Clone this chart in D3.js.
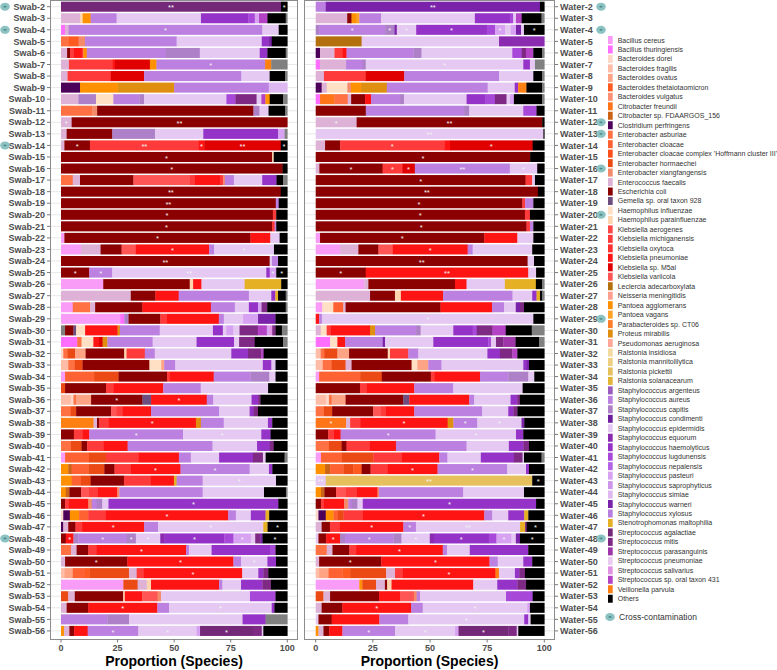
<!DOCTYPE html>
<html><head><meta charset="utf-8">
<script src="https://cdn.jsdelivr.net/npm/d3@7"></script>
<style>body{margin:0;background:#fff}svg{display:block}text{font-family:"Liberation Sans",Arial,sans-serif}</style>
</head><body>
<svg id="c" width="777" height="670"></svg>
<script>
// ---------- legend categories ----------
const speciesKeys = ["bc","bt","bd","bf","bo","btt","bv","cf","cs","cp","ea","ec","eh3","eh","ex","ef","eco","gem","hi","hp","ka","km","ko","kp","k5","kv","la","nm","pa","pv","pb","pm","psa","ri","rm","rp","rs","sar","sau","sca","sco","sep","seq","sha","slu","sne","spa","ssa","ssi","swa","sxy","stm","sag","smi","spar","spn","ssal","s431","vp","oth"];
const speciesNames = ["Bacillus cereus","Bacillus thuringiensis","Bacteroides dorei","Bacteroides fragilis","Bacteroides ovatus","Bacteroides thetaiotaomicron","Bacteroides vulgatus","Citrobacter freundii","Citrobacter sp. FDAARGOS_156","Clostridium perfringens","Enterobacter asburiae","Enterobacter cloacae","Enterobacter cloacae complex 'Hoffmann cluster III'","Enterobacter hormaechei","Enterobacter xiangfangensis","Enterococcus faecalis","Escherichia coli","Gemella sp. oral taxon 928","Haemophilus influenzae","Haemophilus parainfluenzae","Klebsiella aerogenes","Klebsiella michiganensis","Klebsiella oxytoca","Klebsiella pneumoniae","Klebsiella sp. M5al","Klebsiella variicola","Leclercia adecarboxylata","Neisseria meningitidis","Pantoea agglomerans","Pantoea vagans","Parabacteroides sp. CT06","Proteus mirabilis","Pseudomonas aeruginosa","Ralstonia insidiosa","Ralstonia mannitolilytica","Ralstonia pickettii","Ralstonia solanacearum","Staphylococcus argenteus","Staphylococcus aureus","Staphylococcus capitis","Staphylococcus condimenti","Staphylococcus epidermidis","Staphylococcus equorum","Staphylococcus haemolyticus","Staphylococcus lugdunensis","Staphylococcus nepalensis","Staphylococcus pasteuri","Staphylococcus saprophyticus","Staphylococcus simiae","Staphylococcus warneri","Staphylococcus xylosus","Stenotrophomonas maltophilia","Streptococcus agalactiae","Streptococcus mitis","Streptococcus parasanguinis","Streptococcus pneumoniae","Streptococcus salivarius","Streptococcus sp. oral taxon 431","Veillonella parvula","Others"];
const speciesColors = ["#F99CF7","#FF6EFF","#FFD7C9","#FFBCA6","#FFA385","#FF5A1F","#FF8F73","#FF7518","#CC6418","#4D005A","#FF7043","#FF6232","#FF4F1A","#EC4A14","#F38A6A","#DDB2D6","#8B0000","#6E4E7E","#FFE0C4","#FFD5B0","#FF4646","#FF3A3A","#FF3030","#FF1414","#E00000","#FF5555","#B5700E","#FF9F90","#FF9000","#FFA328","#FF7E28","#E08E10","#FFA89A","#F2DAA0","#EFD080","#E7C05E","#E2B438","#9B5CC0","#BC80E0","#AE80C8","#6C1E9C","#E5C9F3","#8A2BB0","#9533C8","#A848D8","#B462E6","#D8A2F2","#CE96E8","#DEB8F0","#7A22AA","#B780E0","#E5B024","#742878","#7E2A84","#9E35A8","#EACBF2","#E092E4","#B342C4","#FF8012","#000000"];
const unassignedColor = "#808080"; // key "na" (grey, not in legend)

// ---------- rows ----------
const swabLabels = ["Swab-2","Swab-3","Swab-4","Swab-5","Swab-6","Swab-7","Swab-8","Swab-9","Swab-10","Swab-11","Swab-12","Swab-13","Swab-14","Swab-15","Swab-16","Swab-17","Swab-18","Swab-19","Swab-20","Swab-21","Swab-22","Swab-23","Swab-24","Swab-25","Swab-26","Swab-27","Swab-28","Swab-29","Swab-30","Swab-31","Swab-32","Swab-33","Swab-34","Swab-35","Swab-36","Swab-37","Swab-38","Swab-39","Swab-40","Swab-41","Swab-42","Swab-43","Swab-44","Swab-45","Swab-46","Swab-47","Swab-48","Swab-49","Swab-50","Swab-51","Swab-52","Swab-53","Swab-54","Swab-55","Swab-56"];
const waterLabels = ["Water-2","Water-3","Water-4","Water-5","Water-6","Water-7","Water-8","Water-9","Water-10","Water-11","Water-12","Water-13","Water-14","Water-15","Water-16","Water-17","Water-18","Water-19","Water-20","Water-21","Water-22","Water-23","Water-24","Water-25","Water-26","Water-27","Water-28","Water-29","Water-30","Water-31","Water-32","Water-33","Water-34","Water-35","Water-36","Water-37","Water-38","Water-39","Water-40","Water-41","Water-42","Water-43","Water-44","Water-45","Water-46","Water-47","Water-48","Water-49","Water-50","Water-51","Water-52","Water-53","Water-54","Water-55","Water-56"];
const swabContam = ["Swab-2","Swab-4","Swab-14","Swab-48"];
const waterContam = ["Water-2","Water-4","Water-12","Water-13","Water-16","Water-20","Water-29","Water-48"];
const xTicks = [0,25,50,75,100];

// ---------- segment values: [species, proportion %, significance mark] ----------
const swabBars = [
[["sag",97.2,"**"],["oth",2.8,"*"]],
[["ef",8.4],["hp",1.2],["pa",3.5],["sau",11.5],["sep",37.3],["sha",20.9],["slu",2.9],["spa",1.9],["s431",3.7],["oth",8.1],["na",0.7]],
[["bt",1.8],["ef",1.5],["sau",85.7,"*"],["sep",7.2],["oth",3.8]],
[["ea",3.2],["btt",4.6],["ex",2.8],["sau",40.5],["sep",37.6],["sha",2.9],["swa",1.5],["oth",6.9]],
[["ef",2.7],["eco",1.3],["km",1.5],["kp",3.7],["km",0.7],["pa",1.5],["sau",35],["sca",15],["sep",26.5],["sha",3.4],["oth",8.1],["na",0.7]],
[["ef",3.5],["km",19.1],["kp",1.2],["k5",15.4],["pa",2.9],["sau",47.9,"*"],["vp",2.7],["na",7.1]],
[["ef",2.9],["km",19.1],["k5",14.7],["sau",43],["sep",12.5],["oth",6.9],["na",0.9]],
[["cp",8.4],["pa",16.6],["pm",25],["sau",41.8],["ssi",8.2]],
[["ef",7.7],["sca",7.8],["hi",7.7],["sau",11.5],["sca",2.1],["sep",36.5],["slu",4],["smi",9.4],["sep",2.1],["s431",1.8],["pa",1.9],["oth",5.9],["na",1.9]],
[["ea",13.8],["ex",2.2],["eco",69.2],["sca",2.7],["sep",4],["oth",7.4],["na",0.9]],
[["ef",4.7,"*"],["eco",95.3,"**"]],
[["ef",2.5],["eco",20.2],["sca",18.9],["sep",21.4],["sha",33.1],["spa",2.9],["na",1.2]],
[["ef",1.5],["eco",11.3,"*"],["km",48.2,"**"],["kp",2.4,"*"],["k5",33.9,"**"],["oth",2.9,"*"]],
[["eco",93.4,"*"],["hp",0.7],["oth",6]],
[["eco",97.9,"*"],["oth",2.1]],
[["ea",5.2],["ef",3.2],["eco",23.6],["kv",24.7],["km",2.5],["kp",11.3],["km",1.2],["ex",0.7],["sau",4],["sep",12.5],["sha",6.3],["oth",2.9],["na",1.9]],
[["eco",97.2,"**"],["oth",2.9]],
[["eco",95,"**"],["sau",1.3],["oth",3.8]],
[["eco",93.8,"*"],["km",1.5],["oth",4.9]],
[["eco",93.4,"*"],["km",1.2],["sau",0.7],["oth",4.9]],
[["bc",1.5],["eco",82.3,"*"],["kp",8.8],["sep",4.1],["oth",3.4]],
[["bc",8.8],["ef",8.7],["eco",9.3],["kv",6.3],["kp",32.4,"*"],["sau",2.2],["sep",26.5,"*"],["oth",5.9]],
[["eco",92.3,"**"],["sep",1],["sau",2.7],["oth",4.1]],
[["eco",12.5,"*"],["sau",10.2,"*"],["sep",68.2,"**"],["sha",1.5],["spa",2.9,"*"],["oth",4.9,"*"]],
[["bc",18.7],["eco",38.3],["hp",1.5],["kp",3.7],["sep",19.1],["stm",16.2],["oth",2.7]],
[["ef",30.9],["eco",10.9],["kp",10.3],["sau",31.1],["sep",9.9],["sha",1.8],["stm",1.2],["oth",3.4],["na",0.7]],
[["bc",5.2],["ea",7.7],["ef",2.2],["eco",20.9],["kp",30.3],["sau",10.6],["sep",6.2],["sha",4.1],["spa",1.5],["smi",2.5],["oth",8.2],["na",0.7]],
[["bc",26.1],["bt",1.8],["sca",1.9],["eco",14],["km",2.7],["kp",23.1],["sau",2.2],["sep",8.5],["spa",6.6],["swa",7.7],["oth",5.2]],
[["na",1.8],["eco",3.7],["gem",1.2],["hi",4],["kp",14.4],["pm",1],["sau",17.7],["sep",23.6],["sha",4.4],["sep",1.5],["spa",3.2],["sep",2.7],["smi",8.1],["s431",4],["spa",1.2],["ssal",1.2],["smi",1.5],["oth",2.8],["na",2.4]],
[["bt",7.2],["ea",1.9],["hi",5.2],["kp",2.5],["k5",1.6],["pm",2.1],["sau",20],["sep",19.4],["sha",16.6],["sep",2.2],["smi",6.9],["oth",12.5],["na",1.9]],
[["bd",1],["ea",1.8],["eh",3.4],["bo",4.7],["eco",17.1],["hp",1],["km",8.1],["sau",4.4],["sep",33.9],["sha",7.4],["smi",5.9],["s431",1],["oth",10.5]],
[["bf",3.2],["ea",2.9],["eh",3.4],["eco",29.5],["hi",5.2],["bo",1.3],["sau",4.9],["sep",38.6],["sha",3.8],["sep",1.8],["oth",5.2]],
[["bc",1.8],["ec",12.8],["eh",10.8],["eco",21.4],["km",1],["kp",19.6],["sau",16.2],["sca",8.4],["sep",2.7],["oth",5.2]],
[["eh",1.8],["eco",18.1],["km",3.2],["kp",22.1],["sau",16.6],["sep",29.8],["oth",8.5]],
[["bf",4.3],["bd",1.2],["ea",1.2],["bo",6.6],["eco",22.7,"*"],["gem",3.8],["kp",24.6,"*"],["sau",2.9],["sep",16.9],["sha",2.9],["smi",1],["oth",11.9]],
[["ea",4.3],["eh",2.4],["eco",15.5],["kv",2.5],["km",2.7],["kp",12.5],["sau",30.2],["sep",13.5],["sha",1.8],["smi",1.9],["oth",13]],
[["vp",14.3],["ef",1.5],["eco",1],["km",4.1],["kp",38.3,"*"],["pm",2.2],["sau",10],["sep",19.4],["sha",1.9],["oth",6.6]],
[["eco",5.7],["km",3.7],["kp",3.1],["sau",41.5,"*"],["sep",34.6,"*"],["sha",4.1],["oth",7.4]],
[["ea",4.4],["eh",4.7],["eco",2.5],["km",7.1],["kp",10.8],["sau",37.6],["sep",19.7],["sha",5.6],["smi",1.8],["oth",6]],
[["bc",1.8],["ec",10.6],["eh",7.5],["km",14.3],["kp",18],["sau",5.3],["sep",12.5],["sha",15],["smi",4.4],["sep",1.2],["oth",8.4],["na",1.2]],
[["pa",3.2],["cs",1.5],["ec",7.4],["eh",7],["eco",4.5],["km",7],["kp",22.1,"*"],["sau",30.5,"*"],["sep",8.5],["sha",1.5],["oth",6.6]],
[["pa",4.7],["ec",4.1],["eh",4.3],["eco",14.7],["km",11.8],["kp",10.3],["stm",1.2],["sau",11.5],["sep",32.4,"*"],["oth",5]],
[["pa",2.1],["cs",1.6],["eco",5.2],["kv",3.2],["km",4],["kp",8.8],["ex",0.9],["sau",36.8],["sep",27.1],["oth",9.7],["na",0.6]],
[["eco",1.8],["km",1.5],["kp",8.8],["ex",1.5],["sau",2.2],["sca",2.5],["sep",2.7],["sha",75.1,"*"],["oth",4]],
[["bd",1],["cp",2.9],["pa",4.1],["ec",4],["km",7.8],["kp",54,"*"],["sau",3.4],["sep",6.6],["sha",6.5],["stm",1.6],["oth",8]],
[["cp",1],["ef",2.2],["eco",3.2],["km",2.9],["kp",27.4,"*"],["sau",6.2],["sep",46.4,"*"],["stm",1.9],["oth",8.7,"*"]],
[["eco",2.1],["kp",3.4,"*"],["sca",2.2],["sau",21.4,"*"],["sca",4,"*"],["sep",10.8,"*"],["seq",1.9],["sha",26.4,"*"],["slu",4.1],["spa",7.7,"*"],["sep",1.9],["smi",2.2],["swa",1],["oth",11,"*"]],
[["ea",4.4],["ef",2.5],["eco",5.2],["km",3.7],["kp",39.5,"*"],["sau",1.3],["sep",10],["sha",26.1],["slu",2.2],["oth",5.2]],
[["ef",1.8],["eco",27.5,"*"],["kp",46.8,"*"],["sau",3.4],["sep",11.6,"*"],["sha",3.8],["oth",5]],
[["bf",1.5],["bo",3.7],["ec",5.4],["btt",1.9],["eh",17.5],["ef",3.4],["km",3.2],["kp",43.4,"*"],["sep",7.1],["sha",2.2],["smi",2.2],["oth",8.4]],
[["bc",27.5],["eh",6.3],["ef",4],["hp",1.9],["kp",30],["sau",1.5],["sep",8.2],["sha",9.4],["smi",3.8],["oth",7.2]],
[["eh",3.2],["ef",2.9],["eco",21.4],["hp",0.7],["kp",7.7],["kv",6.8],["ex",1.5],["sep",39.3],["slu",11.3],["oth",5.2]],
[["ef",2.5],["eco",9.6],["kp",30.5,"*"],["sau",5.2],["sep",45.4,"*"],["sha",1.2],["oth",5.7]],
[["sau",20.5],["sca",9.6],["sep",50.2],["sha",10.2],["na",9.6]],
[["pa",1.3],["ef",2.4],["eco",2.1],["kp",6],["sau",22.4,"*"],["sep",25.8,"*"],["spa",1.5],["sag",23.3,"*"],["smi",4],["sep",0.7],["oth",10.6]]
];
const waterBars = [
[["sau",4.4],["swa",93.7,"**"],["oth",1.9]],
[["ef",13.8],["eco",1.9],["pa",2.2],["pv",1.2],["sau",9.5],["sep",41.1],["sha",15.3],["slu",1.5],["sep",1.2],["s431",2.5],["oth",8.7],["na",1.2]],
[["sca",1.5],["sau",28.9,"*"],["sca",4.1,"*"],["swa",1],["sep",8.5,"*"],["sha",30.9,"*"],["slu",3.6],["spa",4.4,"*"],["sep",2.5],["spa",2.3],["swa",2.2],["sep",1.3],["oth",8.9,"*"]],
[["la",20.1],["sep",60.1],["seq",19.8]],
[["cp",1.9],["ef",6.3],["km",3.6],["kp",1.7],["sau",29.2],["sca",3.6],["sep",39.7],["slu",4.1],["smi",1.9],["s431",3.2],["oth",3.9],["na",0.9]],
[["bt",1.9],["ef",11.4],["sau",7.3],["sca",1.3],["sep",69,"*"],["sha",2.9],["sep",2.2],["na",4.1]],
[["ef",3.6],["km",18.2],["k5",16.9],["sau",41.4],["sep",15],["oth",3.9],["na",0.9]],
[["cp",2.6],["ef",2.2],["hi",9],["ex",1.6],["pa",4.4],["pm",11.2],["sau",44],["sep",11.8],["sha",1.5],["vp",3.6],["oth",6.9],["na",0.9]],
[["bt",1.9],["cf",6.3],["ea",5.8],["ef",1.5],["eco",6.1],["kp",2.6],["sau",12.7],["sca",1.7],["sep",27.4],["sha",8.3],["slu",4.1],["smi",5.1],["sep",1.5],["spa",1.7],["oth",12.4],["na",0.9]],
[["eco",21.9],["sau",43],["sca",2.3],["sep",23.6],["slu",5.8],["oth",3.4]],
[["ef",17.9,"*"],["eco",81.2,"**"],["oth",0.9]],
[["sep",99.6,"**"],["oth",0.4]],
[["ef",4.1],["eco",6.6],["km",45.6,"*"],["kp",2.5],["k5",36.2,"*"],["oth",5.1]],
[["eco",93.8,"*"],["oth",6.2]],
[["ef",1.6],["eco",27.7,"*"],["km",8.6,"*"],["k5",5.5,"*"],["sau",41.6,"**"],["sep",12,"*"],["oth",3.1]],
[["eco",92,"*"],["km",2.9],["sep",1.2],["oth",4.1]],
[["eco",97.2,"**"],["oth",2.8]],
[["eco",90.5,"*"],["km",1.2],["sau",3.6],["oth",4.8]],
[["eco",91.7,"*"],["km",2.2],["oth",6.3]],
[["eco",92.4,"*"],["km",1.5],["sau",1.5],["oth",4.8]],
[["bc",1.9],["eco",72,"*"],["kp",14.5],["sep",7],["oth",4.8]],
[["bc",10.7],["ef",8],["eco",8.8],["kv",6.3],["kp",32.8,"*"],["sau",2.2],["sep",26.1],["oth",5.3]],
[["eco",92.8,"**"],["sep",2.8],["oth",4.5]],
[["eco",21.9,"*"],["kp",71.2,"**"],["sep",3.4],["oth",3.6]],
[["bc",21.3],["ef",1.8],["eco",38],["kp",5.1],["sep",16.8],["stm",13.6],["oth",2.8],["na",0.9]],
[["ef",23.8],["eco",10.9],["hp",2.6],["kp",18.5],["sau",30.4],["sep",8.6],["sha",1.9],["stm",1.5],["oth",1],["na",0.9]],
[["bc",2.9],["hi",4.8],["ec",4.4],["ef",1],["eco",41.6],["kp",22.6],["sau",5.3],["sep",5.1],["swa",1.8],["smi",1.8],["oth",8.9]],
[["kp",1.5],["sau",1.2],["sep",92.7,"*"],["oth",4.8]],
[["ef",2.2],["hi",2.6],["km",1.9],["kp",17.1],["pm",2.2],["sau",18],["sca",2],["sep",14.3],["sha",8.5],["slu",1.8],["smi",6.9],["s431",5.8],["oth",11.4],["na",5.5]],
[["bt",6.3],["hi",3.2],["kp",3.4],["sau",16.5],["swa",1],["sep",21.2],["sha",24.1],["slu",1.2],["sep",2.2],["smi",3.2],["spar",5.4],["oth",10.4],["na",2.2]],
[["bf",2.2],["ea",1.5],["eh",5.8],["bo",5.1],["eco",16.9],["hp",1],["km",8],["sau",4.4],["sep",30.2],["sha",5.5],["smi",5.4],["s431",2.2],["oth",11.8]],
[["bf",3.1],["ea",3.9],["eh",6.1],["ef",2.6],["eco",26.3],["hi",2.5],["bo",4.8],["sau",5.8],["sep",35.8],["sha",1.5],["swa",1],["oth",6.7]],
[["bc",1.5],["ec",18],["eh",9.5],["eco",21.5],["km",1.5],["kp",20.1],["sau",12.4],["sca",8.8],["sep",2.6],["oth",4.4]],
[["eco",19.4],["km",2.9],["kp",20.9],["sau",17.1],["sep",30.4],["oth",9.5]],
[["bf",4.5],["bd",1.3],["ea",1.2],["bo",6.1],["eco",25.3],["gem",2.6],["kp",26.3],["sau",2.2],["sep",15.9],["sha",2.9],["smi",1.2],["oth",10.7]],
[["ea",3.6],["eh",3.6],["eco",18],["kv",3.4],["km",2.2],["kp",12.4],["sau",29.8],["sep",11.4],["sha",2.2],["smi",1.8],["oth",11.8]],
[["cf",13.3,"*"],["ef",1.8],["km",4.4],["kp",38.4,"*"],["pm",2.5],["sau",10.5,"*"],["sep",19.4,"*"],["swa",1.2],["oth",8.8]],
[["eco",5.5],["km",2.5],["kp",2.9],["sau",41.6,"*"],["sep",35.2,"*"],["sha",3.2],["oth",9.2]],
[["ea",5.8],["eh",5.5],["eco",2.2],["km",10.2],["kp",11.4],["sau",30.9],["sep",18.5],["sha",6.3],["smi",2.5],["oth",6.7]],
[["bc",2.3],["ec",9],["eh",13.9],["km",12.4],["kp",16.5],["sau",3.6],["sep",14.6],["sha",14.5],["smi",3.8],["sep",0.6],["oth",7.7],["na",1.2]],
[["pa",4.1],["cs",2.2],["ec",5.8],["eh",4.4],["btt",3.6],["eco",3.9],["km",7.3],["kp",22,"*"],["sau",30.5,"*"],["sep",8.2],["sha",1.3],["oth",6.7]],
[["sep",4.4,"**"],["rp",90.5,"**"],["oth",5.3,"*"]],
[["pa",2.3],["cs",1.5],["eco",5.1],["kv",4.2],["km",4.8],["kp",9.2],["ex",0.6],["sau",37],["sep",26.6],["oth",8.9]],
[["eco",2.3],["km",1.3],["kp",8.9],["ex",1.8],["sau",1.5],["sca",2.5],["sep",2.3],["sha",75.9,"*"],["oth",3.6]],
[["bd",1.2],["cp",3.2],["pa",3.4],["ec",1.8],["eh",2.6],["km",8.3],["kp",53.4,"*"],["sau",3.5],["sep",7],["sha",7],["stm",1.8],["oth",7]],
[["ef",2.6],["eco",3.6],["km",4.4],["kp",27.7,"*"],["sau",5.5,"*"],["sep",45.5,"**"],["stm",2.2],["smi",0.7],["oth",7.7,"*"]],
[["sep",1.2],["eco",3.4],["kp",6.1,"*"],["sca",2.2],["sau",21.2,"*"],["sca",3.6],["sep",12.4,"*"],["seq",1.8],["sha",24.1,"*"],["slu",3.4],["spa",6.6,"*"],["sep",1.9],["swa",1.8],["oth",10.7,"*"]],
[["ea",4.8],["ef",2.5],["eco",7.4],["km",2.9],["kp",37.8,"*"],["sau",1.9],["sep",9.9],["sha",25.5],["oth",7]],
[["ef",1.5],["eco",27.2,"*"],["kp",47.4,"*"],["sau",3.6],["sep",11.2],["sha",3.9],["oth",5.3]],
[["bf",1.5],["bo",4.1],["ec",6.1],["btt",3.4],["eh",15.8],["ef",3.9],["km",3.2],["kp",40.9,"*"],["vp",1.5],["sep",7],["sha",1.9],["smi",2.5],["oth",8.5]],
[["bc",19.1],["pa",1.3],["eh",6],["ef",3.9],["eco",1],["hp",1.9],["kp",35.8],["sep",10.5],["sha",8.8],["smi",3.8],["oth",8]],
[["eh",3.4],["ef",2.9],["eco",21.5],["kp",9.2],["kv",6.1],["ex",1.2],["sau",1.5],["sep",37.7],["slu",11.7],["oth",5.1]],
[["ef",2.6],["eco",9.1],["kp",30.1,"*"],["sau",5.1],["sep",45.8,"*"],["spa",1.2],["oth",6.3]],
[["sep",1.2],["eco",5.8],["kp",20.9],["sau",12.7],["sep",50.8,"*"],["sha",1.8],["sep",1],["oth",6]],
[["pa",1.2],["ef",2.2],["eco",2.5],["kp",5.8],["sau",23.1,"*"],["sep",26.3,"*"],["spa",1.5],["sag",21.9,"*"],["smi",3.6],["sep",0.7],["oth",11.4]]
];

// ---------- drawing ----------
const svg = d3.select("#c");
const color = d3.scaleOrdinal().domain(speciesKeys.concat(["na"])).range(speciesColors.concat([unassignedColor]));
const y = d3.scaleBand().domain(d3.range(55)).range([0.92, 636.7]).paddingInner(0.13).paddingOuter(0.065);
const panelTop = 0.5, panelBottom = 639.5;

function stackRow(segs){
  const tot = d3.sum(segs, d => d[1]);
  let acc = 0;
  return segs.map(d => { const v = d[1] * 100 / tot; const o = {key:d[0], x0:acc, x1:acc+v, mark:d[2]||null}; acc += v; return o; });
}

function drawPanel(opt){
  const x = d3.scaleLinear().domain([0,100]).range(opt.xr);
  const g = svg.append("g");
  // background + grid
  g.append("rect").attr("x",opt.box[0]+0.5).attr("y",panelTop).attr("width",opt.box[1]-opt.box[0]-1).attr("height",panelBottom-panelTop).attr("fill","#fff");
  g.selectAll("line.grid").data(opt.labels).join("line")
    .attr("x1",opt.box[0]).attr("x2",opt.box[1])
    .attr("y1",(d,i)=>y(i)+y.bandwidth()/2).attr("y2",(d,i)=>y(i)+y.bandwidth()/2)
    .attr("stroke","#DEDEDE").attr("stroke-width",0.7);
  // bars
  const rows = g.selectAll("g.row").data(opt.bars.map(stackRow)).join("g")
    .attr("transform",(d,i)=>`translate(0,${y(i)})`);
  rows.selectAll("rect").data(d=>d).join("rect")
    .attr("x",d=>x(d.x0)).attr("width",d=>Math.max(0,x(d.x1)-x(d.x0))+0.3)
    .attr("y",0).attr("height",y.bandwidth())
    .attr("fill",d=>color(d.key));
  rows.selectAll("text").data(d=>d.filter(s=>s.mark)).join("text")
    .attr("x",d=>x((d.x0+d.x1)/2)).attr("y",y.bandwidth()/2+3.6)
    .attr("text-anchor","middle").attr("font-size",7.5).attr("fill","#F2F2F2")
    .text(d=>d.mark);
  // border
  g.append("rect").attr("x",opt.box[0]+0.5).attr("y",panelTop).attr("width",opt.box[1]-opt.box[0]-1).attr("height",panelBottom-panelTop)
    .attr("fill","none").attr("stroke","#8C8C8C").attr("stroke-width",1);
  // y axis
  const side = opt.side;
  const tx = side==="left" ? opt.box[0] : opt.box[1];
  const dir = side==="left" ? -1 : 1;
  g.selectAll("line.yt").data(opt.labels).join("line")
    .attr("x1",tx).attr("x2",tx+dir*3)
    .attr("y1",(d,i)=>y(i)+y.bandwidth()/2).attr("y2",(d,i)=>y(i)+y.bandwidth()/2)
    .attr("stroke","#555").attr("stroke-width",0.8);
  g.selectAll("text.yl").data(opt.labels).join("text")
    .attr("x",tx+dir*5).attr("y",(d,i)=>y(i)+y.bandwidth()/2+3.2)
    .attr("text-anchor",side==="left"?"end":"start")
    .attr("font-size",9).attr("font-weight","bold").attr("fill","#4D4D4D").text(d=>d);
  // x axis
  g.selectAll("line.xt").data(xTicks).join("line")
    .attr("x1",d=>x(d)).attr("x2",d=>x(d)).attr("y1",panelBottom).attr("y2",panelBottom+3)
    .attr("stroke","#555").attr("stroke-width",0.8);
  g.selectAll("text.xl").data(xTicks).join("text")
    .attr("x",d=>x(d)).attr("y",panelBottom+11.5).attr("text-anchor","middle")
    .attr("font-size",9).attr("font-weight","bold").attr("fill","#4D4D4D").text(d=>d);
  g.append("text").attr("x",(opt.box[0]+opt.box[1])/2).attr("y",666)
    .attr("text-anchor","middle").attr("font-size",14).attr("font-weight","bold").attr("fill","#000")
    .text("Proportion (Species)");
  // contamination markers
  const idx = opt.contam.map(l => opt.labels.indexOf(l));
  badge(g, idx.map(i => [opt.badgeX, y(i)+y.bandwidth()/2]));
}

function badge(g, pts){
  const b = g.selectAll(null).data(pts).join("g").attr("transform",d=>`translate(${d[0]},${d[1]})`);
  b.append("ellipse").attr("rx",4.8).attr("ry",4).attr("fill","#8DC2C2");
  b.append("ellipse").attr("rx",1.6).attr("ry",0.9).attr("fill","#4E8A8A");
}

drawPanel({labels:swabLabels, bars:swabBars, xr:[61,287.3], box:[50,298], side:"left", contam:swabContam, badgeX:5});
drawPanel({labels:waterLabels, bars:waterBars, xr:[315.7,544.3], box:[304,555], side:"right", contam:waterContam, badgeX:601});

// legend
const lg = svg.append("g");
const ly = i => 40 + i*9.47;
lg.selectAll("rect").data(speciesKeys).join("rect")
  .attr("x",608).attr("y",(d,i)=>ly(i)-4).attr("width",4.7).attr("height",8).attr("fill",d=>color(d));
lg.selectAll("text").data(speciesNames).join("text")
  .attr("x",617.7).attr("y",(d,i)=>ly(i)+2.5).attr("font-size",7).attr("fill","#333").text(d=>d);
badge(lg, [[610, 617]]);
lg.append("text").attr("x",619).attr("y",620).attr("font-size",8.5).attr("fill","#333").text("Cross-contamination");
</script>
</body></html>
